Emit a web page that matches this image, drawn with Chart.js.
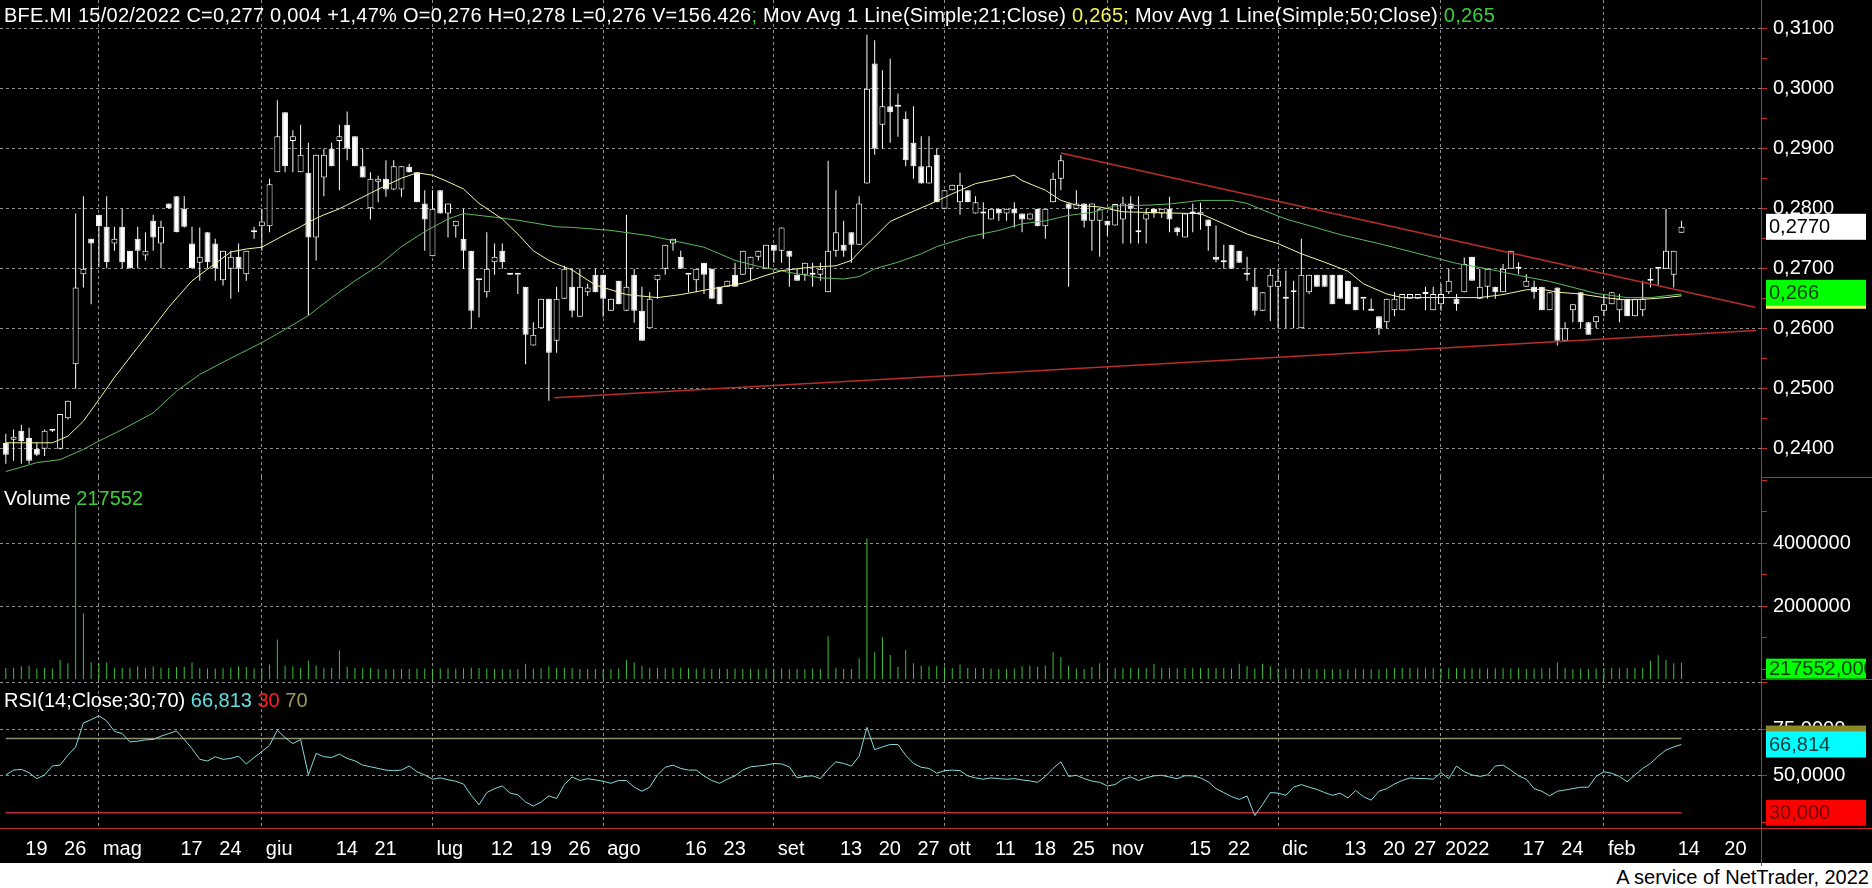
<!DOCTYPE html>
<html>
<head>
<meta charset="utf-8">
<title>BFE.MI</title>
<script src="https://cdn.jsdelivr.net/npm/chart.js"></script>
<style>
  html, body { margin:0; padding:0; background:#ffffff; }
  #wrap { position:relative; width:1872px; height:888px; overflow:hidden; background:#ffffff; font-family:"Liberation Sans", Arial, sans-serif; }
  #bg { position:absolute; left:0; top:0; width:1872px; height:863px; background:#000; }
  canvas { position:absolute; left:0; }
  .t { position:absolute; font-size:20px; line-height:20px; white-space:pre; color:#ffffff; font-family:"Liberation Sans", Arial, sans-serif; }
  .rl { position:absolute; background:#c42a2a; }
</style>
</head>
<body>
<div id="wrap">
  <div id="bg"></div>
  <canvas id="cPrice" width="1872" height="477" style="top:0px"></canvas>
  <canvas id="cVol" width="1872" height="202" style="top:477px"></canvas>
  <canvas id="cRsi" width="1872" height="184" style="top:679px"></canvas>
  <div class="rl" style="left:1761px;top:0px;width:1px;height:866px"></div>
  <div class="rl" style="left:1761px;top:477px;width:111px;height:1px"></div>
  <div class="rl" style="left:1761px;top:679px;width:111px;height:1px"></div>
  <div class="rl" style="left:0px;top:828px;width:1872px;height:1px"></div>
  <div class="t" style="left:4px;top:5px;letter-spacing:0.25px">BFE.MI 15/02/2022 C=0,277 0,004 +1,47% O=0,276 H=0,278 L=0,276 V=156.426<span style="color:#3ccf3c">;</span> Mov Avg 1 Line(Simple;21;Close) <span style="color:#f2f25a">0,265;</span> Mov Avg 1 Line(Simple;50;Close) <span style="color:#3ccf3c">0,265</span></div>
  <div class="t" style="left:4px;top:488px">Volume <span style="color:#3ccf3c">217552</span></div>
  <div class="t" style="left:4px;top:690px">RSI(14;Close;30;70) <span style="color:#5fe0e0">66,813</span> <span style="color:#ff2020">30</span> <span style="color:#9a9a5a">70</span></div>
  <div class="t" style="right:3px;top:867px;color:#000000">A service of NetTrader, 2022</div>
</div>
<script>
// ---------------- DATA ----------------
// one candle per trading day, 15/04/2021 .. 15/02/2022 (index 0..216)
const opens = [
 .2410,.2415,.2430,.2418,.2400,.2400,.2430,.2400,.2451,.2541,
 .2691,.2750,.2790,.2770,.2742,.2770,.2730,.2750,.2722,.2780,
 .2742,.2809,.2821,.2800,.2742,.2710,.2761,.2742,.2681,.2700,
 .2720,.2691,.2761,.2771,.2771,.2861,.2961,.2913,.2861,.2860,
 .2752,.2852,.2900,.2913,.2940,.2921,.2871,.2801,.2845,.2850,
 .2832,.2832,.2870,.2861,.2809,.2721,.2831,.2792,.2771,.2750,
 .2730,.2681,.2661,.2711,.2730,.2690,.2690,.2670,.2572,.2601,
 .2650,.2580,.2650,.2670,.2620,.2661,.2690,.2690,.2630,.2680,
 .2630,.2690,.2630,.2601,.2681,.2700,.2742,.2720,.2690,.2681,
 .2710,.2700,.2670,.2670,.2690,.2690,.2700,.2720,.2700,.2740,
 .2730,.2730,.2690,.2690,.2690,.2690,.2661,.2730,.2740,.2761,
 .2740,.2842,.3042,.2940,.2971,.2970,.2950,.2910,.2871,.2842,
 .2890,.2800,.2831,.2811,.2831,.2792,.2792,.2782,.2800,.2792,
 .2800,.2792,.2782,.2800,.2771,.2811,.2850,.2809,.2800,.2809,
 .2780,.2780,.2780,.2772,.2782,.2809,.2761,.2782,.2800,.2792,
 .2800,.2769,.2752,.2792,.2790,.2782,.2720,.2711,.2740,.2730,
 .2690,.2670,.2630,.2670,.2670,.2650,.2661,.2601,.2661,.2690,
 .2690,.2690,.2690,.2680,.2670,.2650,.2630,.2621,.2611,.2631,
 .2631,.2650,.2650,.2658,.2631,.2641,.2661,.2650,.2661,.2720,
 .2650,.2670,.2670,.2661,.2700,.2700,.2670,.2670,.2670,.2631,
 .2669,.2580,.2631,.2661,.2611,.2611,.2630,.2641,.2631,.2650,
 .2621,.2631,.2680,.2700,.2700,.2690,.2760];
const highs = [
 .2425,.2432,.2440,.2435,.2410,.2432,.2432,.2458,.2480,.2792,
 .2821,.2750,.2790,.2821,.2770,.2800,.2730,.2770,.2761,.2790,
 .2780,.2809,.2821,.2821,.2770,.2769,.2761,.2750,.2730,.2730,
 .2742,.2730,.2770,.2800,.2850,.2981,.2961,.2931,.2940,.2910,
 .2890,.2900,.2910,.2940,.2962,.2921,.2900,.2861,.2855,.2881,
 .2881,.2871,.2875,.2861,.2831,.2831,.2831,.2809,.2780,.2800,
 .2730,.2681,.2761,.2742,.2742,.2690,.2690,.2670,.2611,.2650,
 .2650,.2670,.2705,.2700,.2700,.2675,.2700,.2690,.2650,.2680,
 .2790,.2700,.2670,.2661,.2690,.2740,.2750,.2730,.2690,.2700,
 .2710,.2700,.2670,.2680,.2710,.2730,.2720,.2730,.2740,.2740,
 .2769,.2730,.2700,.2710,.2710,.2710,.2880,.2831,.2780,.2761,
 .2821,.3090,.3081,.3031,.3050,.2992,.2962,.2971,.2921,.2921,
 .2900,.2831,.2840,.2860,.2831,.2821,.2811,.2800,.2800,.2800,
 .2811,.2792,.2792,.2800,.2800,.2860,.2890,.2809,.2831,.2809,
 .2809,.2800,.2780,.2808,.2820,.2821,.2821,.2800,.2800,.2800,
 .2820,.2770,.2792,.2809,.2810,.2782,.2772,.2740,.2740,.2730,
 .2720,.2700,.2661,.2700,.2700,.2697,.2680,.2750,.2690,.2690,
 .2690,.2690,.2690,.2680,.2670,.2650,.2650,.2621,.2650,.2661,
 .2658,.2658,.2658,.2670,.2670,.2675,.2700,.2658,.2719,.2720,
 .2700,.2700,.2670,.2708,.2730,.2711,.2691,.2680,.2670,.2661,
 .2669,.2611,.2641,.2661,.2611,.2621,.2658,.2661,.2658,.2650,
 .2650,.2680,.2700,.2700,.2800,.2730,.2780];
const lows = [
 .2375,.2380,.2375,.2375,.2388,.2388,.2428,.2399,.2449,.2500,
 .2669,.2641,.2703,.2701,.2730,.2701,.2700,.2701,.2714,.2730,
 .2701,.2800,.2761,.2769,.2700,.2680,.2701,.2680,.2672,.2650,
 .2661,.2680,.2750,.2730,.2761,.2861,.2861,.2861,.2861,.2622,
 .2714,.2821,.2871,.2831,.2881,.2871,.2852,.2782,.2811,.2820,
 .2831,.2820,.2860,.2811,.2730,.2721,.2792,.2752,.2752,.2700,
 .2600,.2619,.2652,.2690,.2700,.2690,.2658,.2541,.2572,.2601,
 .2480,.2560,.2650,.2619,.2620,.2655,.2661,.2620,.2630,.2641,
 .2630,.2610,.2580,.2601,.2650,.2690,.2730,.2700,.2661,.2661,
 .2658,.2650,.2641,.2670,.2670,.2690,.2680,.2714,.2700,.2710,
 .2710,.2670,.2680,.2680,.2670,.2680,.2661,.2720,.2720,.2710,
 .2740,.2842,.2890,.2900,.2910,.2920,.2871,.2850,.2842,.2842,
 .2811,.2800,.2831,.2790,.2811,.2792,.2750,.2782,.2780,.2780,
 .2769,.2761,.2782,.2771,.2750,.2811,.2831,.2670,.2800,.2769,
 .2730,.2720,.2755,.2772,.2742,.2742,.2742,.2742,.2785,.2785,
 .2761,.2755,.2752,.2761,.2765,.2730,.2711,.2700,.2700,.2710,
 .2680,.2622,.2630,.2613,.2601,.2601,.2601,.2601,.2658,.2670,
 .2670,.2641,.2650,.2641,.2631,.2631,.2630,.2590,.2601,.2621,
 .2631,.2650,.2650,.2631,.2631,.2630,.2658,.2630,.2661,.2680,
 .2650,.2650,.2650,.2661,.2700,.2691,.2670,.2650,.2631,.2631,
 .2572,.2580,.2611,.2601,.2590,.2601,.2621,.2641,.2611,.2621,
 .2621,.2621,.2669,.2672,.2700,.2669,.2760];
const closes = [
 .2390,.2420,.2413,.2380,.2390,.2430,.2430,.2458,.2480,.2669,
 .2700,.2742,.2771,.2711,.2750,.2711,.2701,.2730,.2730,.2752,
 .2770,.2801,.2761,.2770,.2701,.2720,.2711,.2701,.2730,.2720,
 .2700,.2730,.2761,.2779,.2841,.2921,.2871,.2921,.2890,.2752,
 .2890,.2890,.2871,.2921,.2900,.2871,.2852,.2850,.2850,.2832,
 .2871,.2871,.2861,.2811,.2782,.2800,.2792,.2809,.2780,.2730,
 .2630,.2681,.2700,.2720,.2711,.2690,.2690,.2590,.2590,.2650,
 .2560,.2650,.2700,.2630,.2670,.2669,.2661,.2650,.2650,.2641,
 .2670,.2630,.2580,.2650,.2690,.2740,.2750,.2700,.2690,.2700,
 .2690,.2650,.2641,.2680,.2670,.2730,.2720,.2730,.2740,.2730,
 .2769,.2720,.2680,.2710,.2690,.2700,.2730,.2761,.2730,.2740,
 .2809,.3000,.2900,.2971,.2961,.2970,.2881,.2871,.2842,.2871,
 .2811,.2831,.2840,.2840,.2811,.2811,.2792,.2800,.2792,.2800,
 .2792,.2782,.2792,.2771,.2800,.2850,.2881,.2800,.2809,.2780,
 .2809,.2800,.2772,.2808,.2809,.2800,.2761,.2792,.2792,.2800,
 .2782,.2761,.2792,.2792,.2795,.2771,.2715,.2711,.2700,.2710,
 .2690,.2630,.2661,.2690,.2680,.2650,.2661,.2690,.2690,.2670,
 .2670,.2641,.2650,.2641,.2631,.2650,.2630,.2601,.2650,.2650,
 .2658,.2658,.2658,.2658,.2658,.2658,.2680,.2641,.2708,.2680,
 .2670,.2700,.2661,.2700,.2730,.2700,.2680,.2661,.2631,.2661,
 .2580,.2601,.2641,.2611,.2590,.2621,.2641,.2661,.2650,.2621,
 .2650,.2650,.2680,.2700,.2730,.2730,.2770];
const volumes = [
 50000,50000,100000,120000,30000,50000,30000,300000,200000,5200000,
 1780000,220000,200000,220000,60000,50000,60000,100000,50000,100000,
 60000,50000,80000,90000,220000,40000,30000,30000,40000,60000,
 100000,80000,30000,60000,160000,950000,120000,100000,50000,280000,
 130000,60000,50000,600000,90000,50000,40000,50000,20000,20000,
 15000,20000,20000,30000,30000,25000,30000,40000,30000,40000,
 60000,50000,30000,20000,20000,10000,20000,180000,30000,40000,
 100000,50000,50000,50000,20000,20000,20000,10000,20000,30000,
 300000,220000,120000,60000,50000,40000,40000,60000,40000,30000,
 40000,20000,30000,20000,30000,20000,20000,20000,30000,20000,
 30000,20000,20000,20000,30000,20000,1050000,60000,20000,20000,
 350000,4150000,550000,1020000,460000,90000,620000,200000,120000,100000,
 100000,90000,50000,160000,50000,50000,50000,30000,20000,20000,
 30000,100000,120000,90000,120000,550000,400000,120000,30000,20000,
 80000,200000,60000,40000,40000,50000,40000,40000,180000,50000,
 50000,40000,50000,40000,50000,50000,40000,50000,30000,180000,
 100000,30000,180000,100000,30000,30000,20000,30000,30000,20000,
 20000,10000,20000,10000,30000,20000,20000,10000,30000,50000,
 50000,50000,40000,40000,40000,40000,40000,50000,40000,40000,
 40000,30000,40000,40000,30000,40000,20000,30000,40000,50000,
 220000,60000,20000,30000,20000,30000,50000,50000,40000,50000,
 50000,60000,280000,450000,300000,200000,217552];
const rsiValues = [
 50.4,53,53.4,51.6,48.4,50.4,55.2,55.7,61,65.5,
 78.4,80.2,82.3,79.5,73.9,72.7,68.2,68.6,69.3,69.5,
 71.3,72.7,74.1,69.5,64.6,58.8,57.9,60.2,58.8,59.3,
 60.5,56.3,59.8,62.9,66.4,74.5,70.5,67.3,69.5,50.5,
 62,60.2,59.8,61.6,59.3,58,55.7,54.8,53.9,53,
 52.7,53,55.2,52.1,50.4,48.1,48.8,47.8,47,45.5,
 39.4,34.3,40.9,43,44.5,40.6,39.7,35.8,33.6,35.8,
 39.1,37.7,45.2,49.3,47.4,48.4,47.7,47,45.9,47.4,
 47.4,43.8,41.6,43.8,50.4,54.5,55.7,53.9,53,53,
 49.9,47.4,45.9,48.1,49.9,53,54.8,55.2,55.7,56.6,
 56.3,54.8,48.8,49.6,49.9,48.4,53.4,57.5,56.6,55.2,
 60.5,76,64,65.5,66.8,66.8,61,56.6,54.5,53.9,
 51.3,52.7,53,52.7,49.9,48.8,48.1,48.8,48.4,48.1,
 48.4,47.7,47.2,46.4,49.6,53.9,57.5,49.6,50.2,48.4,
 47.1,46.4,44.5,45.2,48.1,49.3,47.4,48.8,49.9,50.2,
 49.3,48.4,50,49.9,48.8,46.7,43,40.9,38.7,37.2,
 39.1,28.5,34.5,40.9,40.6,39.4,43.8,45.2,43.8,42.6,
 40.9,39.4,40.6,38,42,38.7,36.8,41.6,43,45.5,
 47.4,48.8,48.5,48.4,48.1,51.6,48.4,55.2,52.1,50.4,
 49.6,50.4,55.2,55.7,53,49.9,48.1,43,41.6,39.1,
 41.6,42.3,43,43.8,43.8,49.6,52.1,51.3,49.6,46.7,
 50.4,53.9,56.6,60.5,63.8,65.5,66.8];

// moving averages (candle index, value)
const ma21Idx = [0,6,8,10,12,14,17,19,21,24,27,29,31,33,34,36,38,39,41,43,45,47,49,51,53,55,57,59,61,64,66,68,70,71,73,76,80,84,87,92,95,98,100,104,107,109,110,112,114,117,119,122,125,128,130,131,134,136,138,141,144,150,154,157,160,164,167,170,173,175,178,180,185,190,193,196,198,200,203,206,209,212,214,216];
const ma21Val = [.2410,.2410,.2421,.2446,.2482,.2519,.2569,.2602,.2636,.2680,.2709,.2728,.2733,.2736,.2743,.2757,.2770,.2778,.2790,.2800,.2813,.2826,.2839,.2851,.2860,.2856,.2845,.2833,.2809,.2783,.2758,.2730,.2714,.2708,.2698,.2673,.2657,.2652,.2657,.2669,.2676,.2689,.2697,.2703,.2705,.2714,.2728,.2753,.2779,.2796,.2807,.2825,.2842,.2850,.2856,.2847,.2831,.2814,.2806,.2803,.2795,.2793,.2792,.2775,.2758,.2742,.2725,.2711,.2696,.2675,.2658,.2652,.2652,.2652,.2657,.2665,.2666,.2661,.2658,.2652,.2648,.2650,.2652,.2655];
const ma50Idx = [0,4,7,10,12,15,19,22,25,29,33,36,39,42,45,48,51,54,57,59,63,66,71,73,78,83,86,90,94,97,101,105,108,110,112,115,118,120,124,128,131,134,137,140,143,147,150,154,158,160,162,165,168,172,177,181,184,187,191,195,199,202,205,209,212,216];
const ma50Val = [.2362,.2377,.2382,.2399,.2413,.2432,.2460,.2496,.2524,.2551,.2577,.2599,.2622,.2652,.2680,.2705,.2737,.2762,.2783,.2792,.2786,.2781,.2770,.2769,.2764,.2755,.2747,.2736,.2714,.2704,.2694,.2685,.2683,.2687,.2700,.2711,.2725,.2737,.2753,.2764,.2775,.2780,.2789,.2794,.2805,.2806,.2808,.2814,.2814,.2809,.2798,.2783,.2772,.2757,.2742,.2729,.2719,.2709,.2700,.2689,.2679,.2669,.2659,.2652,.2652,.2658];

// hand-drawn trend lines (candle index, price)
const trendUpperX = [136, 225.5];
const trendUpperY = [0.2893, 0.2636];
const trendLowerX = [70.7, 225.6];
const trendLowerY = [0.2485, 0.2597];

// RSI reference levels
const rsiLevels = [70, 30];

// axis ticks
const xTickIdx = [2,7,12,22,27,33,42,47,55,62,67,72,77,87,92,99,107,112,117,121,127,132,137,142,152,157,164,172,177,181,185,195,200,206,215,221];
const xTickLabels = ['19','26','mag','17','24','giu','14','21','lug','12','19','26','ago','16','23','set','13','20','27','ott','11','18','25','nov','15','22','dic','13','20','27','2022','17','24','feb','14','20'];
const monthTickIdx = [12,33,55,77,99,121,142,164,185,206];
const priceTicks = [0.24,0.245,0.25,0.255,0.26,0.265,0.27,0.275,0.28,0.285,0.29,0.295,0.30,0.305,0.31];
const volumeTicks = [0,1000000,2000000,3000000,4000000,5000000,6000000];
const volumeLabelled = [2000000,4000000];
const rsiTicks = [25,50,75,100];
const rsiLabelled = [50,75];
const rsiGrid = [50,75,100];

// last values shown in the axis badges
const lastClose = 0.277;
const lastMa21 = 0.2655;
const lastMa50 = 0.266;
const lastVolume = 217552;
const lastRsi = 66.814;

// ---------------- STYLE ----------------
const RED = '#c42a2a';
const GRID = '#8f8f8f';
const CLEAR = 'rgba(0,0,0,0)';
const FONT = {family: '"Liberation Sans", Arial, sans-serif', size: 20};
const X_MIN = -0.75, X_MAX = 226.25, AXIS_W = 111;

Chart.defaults.font.family = FONT.family;

function xScale(withLabels) {
  return {
    type: 'linear', min: X_MIN, max: X_MAX, offset: false,
    afterBuildTicks: ax => { ax.ticks = xTickIdx.map(v => ({value: v})); },
    afterFit: ax => { ax.paddingLeft = 0; ax.paddingRight = 0; ax.height = withLabels ? 35 : 0; },
    grid: { offset: false, drawTicks: false, lineWidth: 1,
            color: c => (c.tick && monthTickIdx.includes(c.tick.value)) ? GRID : CLEAR },
    border: { display: false, dash: [3, 3] },
    ticks: { display: withLabels, autoSkip: false, maxRotation: 0, minRotation: 0,
             align: 'start', labelOffset: 4, padding: 9, color: '#ffffff', font: FONT,
             callback: (v, i) => xTickLabels[i] }
  };
}

function yScale(min, max, ticks, isLabelled, isGrid, fmt) {
  return {
    type: 'linear', position: 'right', min: min, max: max,
    afterBuildTicks: ax => { ax.ticks = ticks.map(v => ({value: v})); },
    afterFit: ax => { ax.width = AXIS_W; ax.paddingTop = 0; ax.paddingBottom = 0; },
    grid: { drawTicks: true, tickLength: 6, tickColor: RED, tickWidth: 1, lineWidth: 1,
            color: c => (c.tick && isGrid(c.tick.value)) ? GRID : CLEAR },
    border: { display: false, dash: [3, 3] },
    ticks: { padding: 6, color: '#ffffff', font: FONT,
             callback: v => isLabelled(v) ? fmt(v) : '' }
  };
}

function badgePlugin(badges) {
  return {
    id: 'badges',
    afterDraw(chart) {
      const ctx = chart.ctx, ys = chart.scales.y;
      badges.forEach(b => {
        const py = ys.getPixelForValue(b.value);
        const top = b.top !== undefined ? b.top(py) : py - 13;
        const h = b.h || 26;
        ctx.save();
        ctx.fillStyle = b.bg;
        ctx.fillRect(1766, top, 100, h);
        if (b.text) {
          ctx.beginPath(); ctx.rect(1766, top, 100, h); ctx.clip();
          ctx.fillStyle = b.fg;
          ctx.font = '20px "Liberation Sans", Arial, sans-serif';
          ctx.textBaseline = 'middle';
          ctx.fillText(b.text, 1769, top + h / 2 + 1);
        }
        ctx.restore();
      });
    }
  };
}

const common = {
  responsive: false, maintainAspectRatio: false, animation: false, devicePixelRatio: 1,
  events: [], layout: { padding: 0 },
  plugins: { legend: { display: false }, tooltip: { enabled: false } }
};

const idx = opens.map((_, i) => i);
const isMajorPrice = v => Math.abs(v * 100 - Math.round(v * 100)) < 1e-6;

// ---------------- PRICE PANEL ----------------
new Chart(document.getElementById('cPrice'), {
  type: 'line',
  data: { datasets: [
    { type: 'line', data: ma21Idx.map((x, k) => ({x, y: ma21Val[k]})), borderColor: '#f4f4a6', borderWidth: 1, pointRadius: 0, tension: 0, order: 0 },
    { type: 'line', data: ma50Idx.map((x, k) => ({x, y: ma50Val[k]})), borderColor: '#5cba5c', borderWidth: 1, pointRadius: 0, tension: 0, order: 1 },
    { type: 'line', data: trendUpperX.map((x, k) => ({x, y: trendUpperY[k]})), borderColor: '#b82c2c', borderWidth: 1.5, pointRadius: 0, order: 2 },
    { type: 'line', data: trendLowerX.map((x, k) => ({x, y: trendLowerY[k]})), borderColor: '#b82c2c', borderWidth: 1.5, pointRadius: 0, order: 2 },
    { type: 'bar', data: idx.map(i => ({x: i, y: [Math.min(opens[i], closes[i]), Math.max(opens[i], closes[i])]})),
      barThickness: 6, grouped: false, borderWidth: 1, borderColor: '#ffffff', borderSkipped: false,
      minBarLength: 2, inflateAmount: 0,
      backgroundColor: c => (closes[c.dataIndex] >= opens[c.dataIndex]) ? '#000000' : '#ffffff', order: 3 },
    { type: 'bar', data: idx.map(i => ({x: i, y: [lows[i], highs[i]]})),
      barThickness: 1, grouped: false, borderWidth: 0, backgroundColor: '#ffffff', minBarLength: 1, inflateAmount: 0, order: 4 }
  ]},
  options: Object.assign({}, common, {
    scales: {
      x: xScale(false),
      y: yScale(0.2353, 0.3148, priceTicks, isMajorPrice, isMajorPrice, v => v.toFixed(4).replace('.', ','))
    }
  }),
  plugins: [badgePlugin([
    { value: lastClose, bg: '#ffffff', fg: '#000000', text: lastClose.toFixed(4).replace('.', ',') },
    { value: lastMa21, bg: '#f2f25a', fg: '#333300', text: '' },
    { value: lastMa50, bg: '#00ff00', fg: '#0b3d0b', text: lastMa50.toFixed(3).replace('.', ','), top: py => py - 13 },
  ])]
});

// ---------------- VOLUME PANEL ----------------
const VOL_MIN = -300000, VOL_MAX = 6095000;
new Chart(document.getElementById('cVol'), {
  type: 'line',
  data: { datasets: [
    { type: 'bar', data: idx.map(i => ({x: i, y: [VOL_MIN, volumes[i]]})),
      barThickness: 1, grouped: false, borderWidth: 0, backgroundColor: '#3cc03c', inflateAmount: 0 }
  ]},
  options: Object.assign({}, common, {
    scales: {
      x: xScale(false),
      y: yScale(VOL_MIN, VOL_MAX, volumeTicks, v => volumeLabelled.includes(v), v => volumeLabelled.includes(v), v => String(v))
    }
  }),
  plugins: [badgePlugin([
    { value: lastVolume, bg: '#00ff00', fg: '#0b3d0b', text: lastVolume.toLocaleString('en-US').replace(/,/g, '') + ',000', top: py => py - 4, h: 20 }
  ])]
});

// ---------------- RSI PANEL ----------------
new Chart(document.getElementById('cRsi'), {
  type: 'line',
  data: { datasets: [
    { type: 'line', data: idx.map(i => ({x: i, y: rsiValues[i]})), borderColor: '#86d8d8', borderWidth: 1, pointRadius: 0, tension: 0, order: 0 },
    { type: 'line', data: [{x: 0, y: rsiLevels[0]}, {x: 216, y: rsiLevels[0]}], borderColor: '#8e8e72', borderWidth: 1.5, pointRadius: 0, order: 1 },
    { type: 'line', data: [{x: 0, y: rsiLevels[1]}, {x: 216, y: rsiLevels[1]}], borderColor: '#c42a3a', borderWidth: 1.5, pointRadius: 0, order: 1 }
  ]},
  options: Object.assign({}, common, {
    scales: {
      x: xScale(true),
      y: yScale(21.8, 102.1, rsiTicks, v => rsiLabelled.includes(v), v => rsiGrid.includes(v), v => v.toFixed(4).replace('.', ','))
    }
  }),
  plugins: [badgePlugin([
    { value: 70, bg: '#8a8a2a', fg: '#222200', text: '' },
    { value: lastRsi, bg: '#00ffff', fg: '#0a3a3a', text: lastRsi.toFixed(3).replace('.', ',') },
    { value: 30, bg: '#ff0000', fg: '#700000', text: '30,000' }
  ])]
});
</script>
</body>
</html>
